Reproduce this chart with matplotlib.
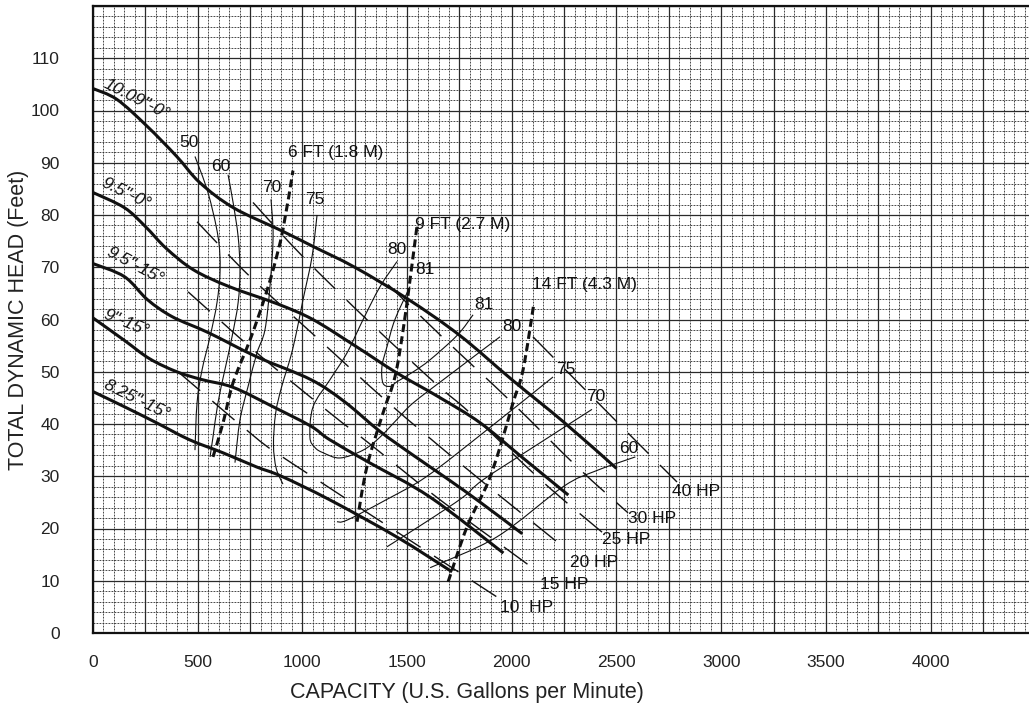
import matplotlib
matplotlib.use('Agg')
import matplotlib.pyplot as plt
from matplotlib.ticker import MultipleLocator, FuncFormatter
from matplotlib.path import Path
from matplotlib.patches import PathPatch

plt.rcParams['font.family'] = ['Liberation Sans', 'DejaVu Sans']

# head-capacity curves (impeller dia / vane angle)
c1_gpm = [0, 115, 258, 400, 510, 670, 900, 1050, 1250, 1500, 1750, 2000, 2250, 2500]
c1_ft = [104.2, 102.1, 97, 91.2, 86.2, 81.4, 77, 74, 70, 64, 57, 48.5, 40.3, 31.5]
c2_gpm = [0, 150, 250, 350, 480, 650, 880, 1050, 1250, 1450, 1650, 1850, 2050, 2270]
c2_ft = [84.3, 81.4, 77.8, 73.6, 69.5, 66.3, 63, 60, 55, 49.8, 45.2, 40.2, 33.6, 26.4]
c3_gpm = [0, 150, 260, 380, 550, 780, 1040, 1200, 1370, 1530, 1700, 1850, 2050]
c3_ft = [70.7, 68.2, 63.8, 60.5, 57.5, 52.9, 48.5, 44.3, 38.6, 34, 29.3, 25, 19]
c4_gpm = [0, 150, 270, 400, 520, 670, 860, 1040, 1130, 1320, 1610, 1960]
c4_ft = [60.3, 56, 52.5, 50, 48.5, 47, 43.3, 39.6, 37, 32.6, 26, 15.3]
c5_gpm = [0, 150, 300, 460, 620, 780, 900, 1130, 1450, 1715]
c5_ft = [46.2, 43.3, 40.3, 37, 34.5, 31.8, 30, 25.5, 18.4, 11.7]
curves = [(c1_gpm, c1_ft), (c2_gpm, c2_ft), (c3_gpm, c3_ft), (c4_gpm, c4_ft), (c5_gpm, c5_ft)]

curve_labels = ['10.09"-0°', '9.5"-0°', '9.5"-15°', '9"-15°', '8.25"-15°']
curve_label_xy = [(210, 102.1), (158, 84.1), (200, 70.3), (158, 59.4), (210, 44.6)]
curve_label_rot = [-27, -26, -28, -22.5, -26]

# NPSH required lines
npsh6_gpm = [573, 621, 669, 750, 812, 860, 907, 955]
npsh6_ft = [33.7, 40.2, 47.9, 56.1, 63.2, 69.5, 77.2, 88.5]
npsh9_gpm = [1261, 1308, 1385, 1442, 1481, 1514, 1547]
npsh9_ft = [21.3, 31.8, 42.1, 49, 58, 67.6, 77.8]
npsh14_gpm = [1696, 1786, 1885, 1944, 2006, 2054, 2106]
npsh14_ft = [9.8, 20.3, 28.7, 35.6, 44.1, 50.4, 63.2]
npsh_lines = [(npsh6_gpm, npsh6_ft), (npsh9_gpm, npsh9_ft), (npsh14_gpm, npsh14_ft)]
npsh_labels = ['6 FT (1.8 M)', '9 FT (2.7 M)', '14 FT (4.3 M)']
npsh_label_xy = [(931, 92), (1538, 78.2), (2097, 66.7)]

# efficiency contours (%)
e50_gpm = [487, 549, 597, 607, 592, 559, 521, 497, 487]
e50_ft = [91.2, 84.3, 75.9, 69.5, 63.2, 56.7, 50.4, 44.1, 35.0]
e60_gpm = [645, 669, 693, 702, 693, 664, 630, 597, 573, 559]
e60_ft = [87.7, 82.4, 75.9, 69.5, 63.2, 56.7, 50.4, 44.1, 37.5, 33.7]
e70_gpm = [850, 860, 845, 821, 783, 740, 702, 678]
e70_ft = [83, 75.9, 66.3, 58, 53.6, 47.1, 40.8, 32.6]
e75_gpm = [1070, 1046, 1003, 974, 945, 900, 872, 862, 875, 907]
e75_ft = [80, 72, 63.8, 58, 53, 47, 42, 36, 31.5, 28.5]
e80_gpm = [1452, 1371, 1290, 1213, 1132, 1051, 1036, 1060, 1099, 1180, 1290, 1371, 1450, 1528, 1690, 1944]
e80_ft = [71.1, 66.3, 60, 53.6, 48.5, 43.3, 37.5, 35.5, 34.5, 33.5, 35, 37.5, 40.8, 44, 49, 56.7]
e81_gpm = [1514, 1442, 1404, 1380, 1385, 1420, 1452, 1530, 1610, 1740, 1815]
e81_ft = [66.3, 60, 54.8, 51, 47.8, 47.2, 48.1, 50, 52.3, 57, 60.9]
e75r_gpm = [1165, 1213, 1400, 1595, 1882, 2197]
e75r_ft = [21.3, 21.6, 25.5, 30, 38.9, 49]
e70r_gpm = [1404, 1600, 1767, 1862, 2100, 2383]
e70r_ft = [16.5, 21.5, 26, 29.3, 35.5, 42.8]
e60r_gpm = [1610, 1929, 2245, 2400, 2590]
e60r_ft = [12.5, 18.4, 28, 31, 33.7]
eff_lines = [(e50_gpm, e50_ft), (e60_gpm, e60_ft), (e70_gpm, e70_ft), (e75_gpm, e75_ft),
             (e80_gpm, e80_ft), (e81_gpm, e81_ft), (e75r_gpm, e75r_ft),
             (e70r_gpm, e70r_ft), (e60r_gpm, e60r_ft)]
eff_labels = ['50', '60', '70', '75', '80', '81', '81', '80', '75', '70', '60']
eff_label_xy = [(458, 93.9), (611, 89.3), (855, 85.3), (1060, 83), (1452, 73.4), (1585, 69.5),
                (1867, 62.8), (2001, 58.6), (2259, 50.4), (2400, 45.3), (2560, 35.4)]

# horsepower lines
hp10_gpm = [406, 750, 927, 1657, 1929]
hp10_ft = [50.0, 38.3, 33.1, 14.0, 6.9]
hp15_gpm = [454, 783, 1132, 1309, 1657, 2125]
hp15_ft = [65.3, 53.6, 42.1, 36.6, 25.5, 11.7]
hp20_gpm = [497, 750, 1070, 1404, 1743, 2087, 2264]
hp20_ft = [78.7, 68.2, 56.5, 44.3, 32.8, 21.6, 15.9]
hp25_gpm = [764, 1003, 1323, 1643, 1801, 2149, 2431]
hp25_ft = [82.4, 72.0, 59.4, 47.5, 42.1, 28.9, 19.3]
hp30_gpm = [1409, 1672, 2001, 2312, 2555]
hp30_ft = [66.7, 56.5, 44.1, 31.8, 23.0]
hp40_gpm = [2101, 2517, 2789]
hp40_ft = [56.7, 39.8, 28.9]
hp_lines = [(hp10_gpm, hp10_ft), (hp15_gpm, hp15_ft), (hp20_gpm, hp20_ft),
            (hp25_gpm, hp25_ft), (hp30_gpm, hp30_ft), (hp40_gpm, hp40_ft)]
hp_labels = ['10  HP', '15 HP', '20 HP', '25 HP', '30 HP', '40 HP']
hp_label_xy = [(1944, 4.8), (2135, 9.2), (2278, 13.4), (2431, 17.8), (2555, 22.0), (2765, 27.0)]


def smooth(ax, xs, ys, **kw):
    # Catmull-Rom through the read points, drawn as cubic bezier segments
    pts = list(zip(xs, ys))
    n = len(pts)
    verts = [pts[0]]
    codes = [Path.MOVETO]
    for i in range(n - 1):
        p0 = pts[max(i - 1, 0)]
        p1 = pts[i]
        p2 = pts[i + 1]
        p3 = pts[min(i + 2, n - 1)]
        c1 = (p1[0] + (p2[0] - p0[0]) / 6.0, p1[1] + (p2[1] - p0[1]) / 6.0)
        c2 = (p2[0] - (p3[0] - p1[0]) / 6.0, p2[1] - (p3[1] - p1[1]) / 6.0)
        verts += [c1, c2, p2]
        codes += [Path.CURVE4] * 3
    patch = PathPatch(Path(verts, codes), fill=False, **kw)
    ax.add_patch(patch)
    return patch


fig = plt.figure(figsize=(10.29, 7.08), dpi=100)
ax = fig.add_axes([93 / 1029, 75 / 708, 936 / 1029, 627 / 708])
ax.set_xlim(0, 4470)
ax.set_ylim(0, 120)

ax.xaxis.set_major_locator(MultipleLocator(250))
ax.xaxis.set_minor_locator(MultipleLocator(50))
ax.yaxis.set_major_locator(MultipleLocator(10))
ax.yaxis.set_minor_locator(MultipleLocator(2))
ax.xaxis.set_major_formatter(FuncFormatter(lambda v, p: '%d' % v if v % 500 == 0 and v <= 4000 else ''))
ax.yaxis.set_major_formatter(FuncFormatter(lambda v, p: '%d' % v if v <= 110 else ''))
ax.tick_params(which='both', length=0, labelsize=12.5, colors='#222222')
ax.tick_params(axis='x', pad=16)
ax.tick_params(axis='y', pad=24)

ax.set_axisbelow(True)
ax.grid(which='major', color='#2a2a2a', lw=0.9, ls='-')
ax.grid(which='minor', color='#2a2a2a', lw=0.6, ls=(0, (2.2, 1.4)))
for s in ['left', 'bottom', 'top']:
    ax.spines[s].set_linewidth(1.6)
    ax.spines[s].set_color('#111111')
ax.spines['right'].set_visible(False)

for gx, gy in curves:
    smooth(ax, gx, gy, edgecolor='#111111', lw=2.2, capstyle='butt', zorder=4)
for txt, (tx, ty), rot in zip(curve_labels, curve_label_xy, curve_label_rot):
    ax.text(tx, ty, txt, fontsize=12.5, style='italic', rotation=rot,
            ha='center', va='center', rotation_mode='anchor', color='#111111', zorder=6)

for gx, gy in npsh_lines:
    smooth(ax, gx, gy, edgecolor='#111111', lw=2.2, ls=(0, (2.6, 1.4)), capstyle='butt', zorder=5)
for txt, (tx, ty) in zip(npsh_labels, npsh_label_xy):
    ax.text(tx, ty, txt, fontsize=12.5, ha='left', va='center', color='#111111', zorder=6)

for gx, gy in eff_lines:
    smooth(ax, gx, gy, edgecolor='#111111', lw=0.8, zorder=3)
for txt, (tx, ty) in zip(eff_labels, eff_label_xy):
    ax.text(tx, ty, txt, fontsize=12.5, ha='center', va='center', color='#111111', zorder=6)

for gx, gy in hp_lines:
    smooth(ax, gx, gy, edgecolor='#111111', lw=1.0, ls=(0, (21, 11.5)), capstyle='butt', zorder=3)
for txt, (tx, ty) in zip(hp_labels, hp_label_xy):
    ax.text(tx, ty, txt, fontsize=12.5, ha='left', va='center', color='#111111', zorder=6)

ax.set_xlabel('CAPACITY (U.S. Gallons per Minute)', fontsize=15.5, color='#222222')
ax.xaxis.label.set_va('center')
ax.xaxis.set_label_coords(0.40, -0.0955)
ax.set_ylabel('TOTAL DYNAMIC HEAD (Feet)', fontsize=15.5, color='#222222')
ax.yaxis.label.set_va('center')
ax.yaxis.set_label_coords(-0.080, 0.5)

fig.savefig('out.png', dpi=100)
